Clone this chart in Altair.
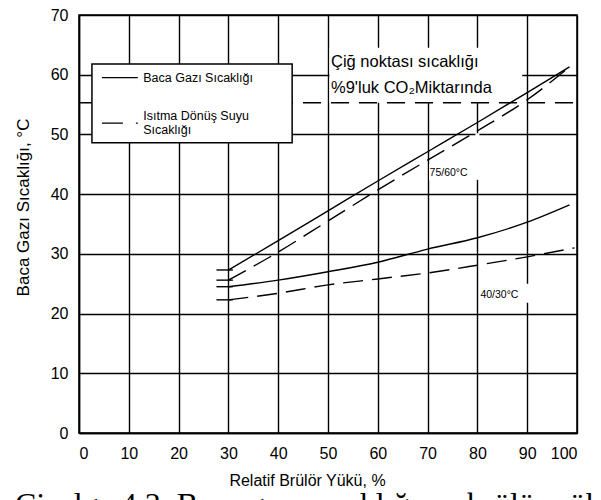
import altair as alt
import pandas as pd

# ---- data ----
load = [30, 40, 50, 60, 70, 80, 90, 98.5]
flue_7560 = [27.3, 32.2, 37.2, 42.2, 47.1, 52.0, 57.0, 61.3]
ret_7560 = [25.6, 30.3, 35.5, 40.7, 45.7, 50.6, 55.8, 61.3]
flue_4030 = [24.5, 25.6, 27.0, 28.6, 30.8, 32.7, 35.3, 38.2]
load_ret_4030 = [30, 40, 50, 60, 70, 80, 90, 99.5]
ret_4030 = [22.3, 23.4, 24.8, 25.8, 26.8, 28.1, 29.5, 31.0]

dew_point = 55.3

x_ticks = list(range(0, 101, 10))
y_ticks = list(range(0, 71, 10))

# start stubs (short horizontal marks at the start of each curve)
stub_x = [27.6]
stub_x2 = [30.9]
stub_y = [27.3, 25.6, 24.5, 22.3]

# legend box and white masks (data units)
legend_box = {"x": [2.6], "x2": [42.8], "y": [48.6], "y2": [61.8]}
mask_x = [50.3, 70.3, 79.6, 80.4]
mask_x2 = [89.0, 78.6, 80.4, 90.4]
mask_y = [55.3, 42.3, 42.4, 21.8]
mask_y2 = [64.5, 45.0, 50.2, 25.0]

legend_sample_x = [4.6]
legend_sample_x2 = [11.8]
legend_sample_y_solid = [59.5]
legend_sample_y_dash = [51.9]

legend_texts = ["Baca Gazı Sıcaklığı", "Isıtma Dönüş Suyu", "Sıcaklığı"]
legend_text_x = [12.9, 12.9, 12.9]
legend_text_y = [59.5, 53.05, 50.75]

dew_texts = ["Çiğ noktası sıcaklığı", "%9'luk CO₂Miktarında"]
dew_text_x = [50.6, 50.6]
dew_text_y = [62.1, 57.8]

curve_labels = ["75/60°C", "40/30°C"]
curve_label_x = [70.4, 80.6]
curve_label_y = [43.5, 23.1]

caption = "Çizelge 4.3. Baca gazı sıcaklığının brülör yüküne bağlılığı"

# ---- tables ----
rows = []
for xv, yv in zip(load, flue_7560):
    rows.append({"series": "flue_7560", "kind": "solid", "x": xv, "y": yv})
for xv, yv in zip(load, ret_7560):
    rows.append({"series": "ret_7560", "kind": "dashed", "x": xv, "y": yv})
for xv, yv in zip(load, flue_4030):
    rows.append({"series": "flue_4030", "kind": "solid", "x": xv, "y": yv})
for xv, yv in zip(load_ret_4030, ret_4030):
    rows.append({"series": "ret_4030", "kind": "dashed", "x": xv, "y": yv})
lines_df = pd.DataFrame(rows)

FONT = "Liberation Sans"

xscale = alt.Scale(domain=[0, 100], nice=False, zero=False)
yscale = alt.Scale(domain=[0, 70], nice=False, zero=False)

common_axis = dict(
    grid=True, gridColor="black", gridOpacity=1, gridWidth=1.4,
    domain=True, domainColor="black", domainWidth=1.5,
    ticks=False, tickSize=0,
    labelFont=FONT, labelFontSize=16, labelColor="black",
    titleFont=FONT, titleFontWeight="normal", titleColor="black",
)
x_axis = alt.Axis(values=x_ticks, title="Relatif Brülör Yükü, %", labelPadding=12,
                  titleX=228, titleY=47, titleBaseline="middle", titleFontSize=16,
                  **common_axis)
y_axis = alt.Axis(values=y_ticks, title="Baca Gazı Sıcaklığı,  °C", labelPadding=11,
                  titleX=-56, titleY=192, titleBaseline="middle", titleAngle=270,
                  titleFontSize=17, **common_axis)


def X(field="x:Q"):
    return alt.X(field, scale=xscale, axis=x_axis, title="Relatif Brülör Yükü, %")


def Y(field="y:Q"):
    return alt.Y(field, scale=yscale, axis=y_axis, title="Baca Gazı Sıcaklığı,  °C")


def rect_layer(df, **kw):
    return alt.Chart(df).mark_rect(**kw).encode(
        x=X(), x2="x2", y=Y(), y2="y2")


dew_box_df = pd.DataFrame({"x": mask_x[:1], "x2": mask_x2[:1], "y": mask_y[:1], "y2": mask_y2[:1]})
dew_box = rect_layer(dew_box_df, fill="white")

dew_df = pd.DataFrame({"x": [x_ticks[0]], "x2": [x_ticks[-1]], "y": [dew_point]})
dew_line = alt.Chart(dew_df).mark_rule(color="black", strokeWidth=1.4, strokeDash=[18, 10]).encode(
    x=X(), x2="x2", y=Y())

leg_box = rect_layer(pd.DataFrame(legend_box), fill="white", stroke="black", strokeWidth=1.5)

masks_df = pd.DataFrame({"x": mask_x[1:], "x2": mask_x2[1:], "y": mask_y[1:], "y2": mask_y2[1:]})
masks = rect_layer(masks_df, fill="white")

solid = alt.Chart(lines_df).transform_filter(alt.datum.kind == "solid").mark_line(
    color="black", strokeWidth=1.4, interpolate="monotone").encode(
    x=X(), y=Y(), detail="series:N", order="x:Q")

dashed = alt.Chart(lines_df).transform_filter(alt.datum.kind == "dashed").mark_line(
    color="black", strokeWidth=1.4, strokeDash=[20, 9], interpolate="monotone").encode(
    x=X(), y=Y(), detail="series:N", order="x:Q")

stubs_df = pd.DataFrame({"x": stub_x * len(stub_y), "x2": stub_x2 * len(stub_y), "y": stub_y})
stubs = alt.Chart(stubs_df).mark_rule(color="black", strokeWidth=1.4).encode(
    x=X(), x2="x2", y=Y())

ls_df = pd.DataFrame({"x": legend_sample_x, "x2": legend_sample_x2, "y": legend_sample_y_solid})
leg_solid = alt.Chart(ls_df).mark_rule(color="black", strokeWidth=1.2).encode(
    x=X(), x2="x2", y=Y())
ld_df = pd.DataFrame({"x": legend_sample_x, "x2": legend_sample_x2, "y": legend_sample_y_dash})
leg_dash = alt.Chart(ld_df).mark_rule(color="black", strokeWidth=1.2,
                                      strokeDash=[21, 13, 2, 20]).encode(
    x=X(), x2="x2", y=Y())


def text_layer(texts, xs, ys, size):
    df = pd.DataFrame({"t": texts, "x": xs, "y": ys})
    return alt.Chart(df).mark_text(align="left", baseline="middle", font=FONT,
                                   fontSize=size, color="black").encode(
        x=X(), y=Y(), text="t:N")


leg_text = text_layer(legend_texts, legend_text_x, legend_text_y, 12.5)
dew_text = text_layer(dew_texts, dew_text_x, dew_text_y, 16.5)
curve_text = text_layer(curve_labels, curve_label_x, curve_label_y, 10.5)

chart = alt.layer(
    dew_box, dew_line, leg_box, masks, solid, dashed, stubs,
    leg_solid, leg_dash, leg_text, dew_text, curve_text,
).properties(
    width=498, height=418,
    background="white",
    autosize=alt.AutoSizeParams(type="none"),
    padding={"left": 71, "top": 7, "right": 16, "bottom": 70},
    title=alt.TitleParams(caption, orient="bottom", anchor="start", frame="group",
                          font="Liberation Serif", fontSize=32, fontWeight="normal",
                          color="black", dx=-64, offset=2),
).configure_view(
    stroke="black", strokeWidth=1.5,
)

chart.save("out.html", embed_options={"renderer": "svg", "actions": False})
